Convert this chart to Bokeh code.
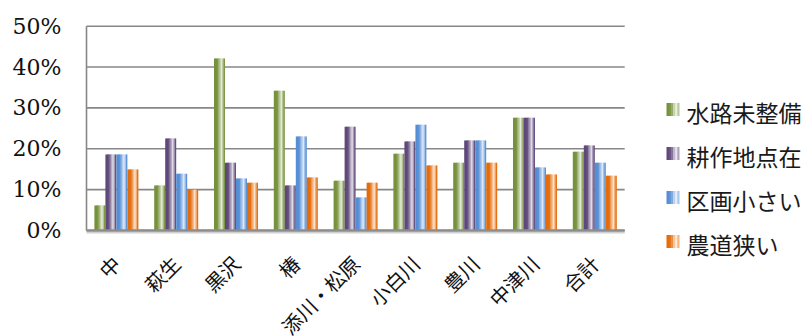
from math import pi

from bokeh.plotting import figure
from bokeh.models import ColumnDataSource, Range1d
from bokeh.core.properties import value
from bokeh.transform import dodge
from bokeh.embed import file_html
from bokeh.resources import INLINE

# ---- data (percent of respondents per district) ----
districts = ["中", "萩生", "黒沢", "椿", "添川・松原", "小白川", "豊川", "中津川", "合計"]
series_names = ["水路未整備", "耕作地点在", "区画小さい", "農道狭い"]
suiro_miseibi = [6.1, 11.0, 42.1, 34.2, 12.2, 18.8, 16.6, 27.6, 19.3]
kousaku_tenzai = [18.6, 22.5, 16.6, 11.0, 25.4, 21.8, 22.0, 27.6, 20.8]
kukaku_chiisai = [18.6, 13.9, 12.7, 23.0, 8.1, 25.9, 22.0, 15.4, 16.6]
noudou_semai = [14.9, 10.0, 11.7, 13.0, 11.7, 15.9, 16.6, 13.7, 13.4]
y_ticks = [0, 10, 20, 30, 40, 50]
y_tick_labels = ["0%", "10%", "20%", "30%", "40%", "50%"]

series_cols = ["s0", "s1", "s2", "s3"]
base_colors = ["#76923C", "#5F497A", "#558ED5", "#E46C0A"]

JP = "Noto Sans CJK JP"

# ---- canvas geometry: the plot frame covers the whole canvas ----
W, H = 806, 336
X0_PX = 86          # left edge of the category area
CAT_PX = 59.8       # pixels per category slot
Y0_PX = 230         # pixel row of the 0% line
PX_PER_PCT = 4.086  # pixels per percentage point


def xd(px):
    return (px - X0_PX) / CAT_PX


def yd(py):
    return (Y0_PX - py) / PX_PER_PCT


n_cat = len(districts)
source = ColumnDataSource(data=dict(
    district=districts,
    xc=[i + 0.5 for i in range(n_cat)],
    s0=suiro_miseibi,
    s1=kousaku_tenzai,
    s2=kukaku_chiisai,
    s3=noudou_semai,
    y0=[0] * n_cat,
))


def tint(hex_color, f):
    """Mix a colour toward white by fraction f."""
    r, g, b = (int(hex_color[i:i + 2], 16) for i in (1, 3, 5))
    r = round(r + (255 - r) * f)
    g = round(g + (255 - g) * f)
    b = round(b + (255 - b) * f)
    return "#%02x%02x%02x" % (r, g, b)


p = figure(
    x_range=Range1d(xd(0), xd(W)),
    y_range=Range1d(yd(H), yd(0)),
    width=W, height=H,
    output_backend="svg",
    toolbar_location=None,
    x_axis_location=None, y_axis_location=None,
    min_border=0,
    background_fill_color="white", border_fill_color="white",
)
p.outline_line_color = None
p.grid.visible = False

# horizontal gridlines and value axis
p.segment(x0=0, x1=n_cat, y0=y_ticks, y1=y_ticks, line_color="#878787", line_width=1.6)
p.segment(x0=0, x1=0, y0=min(y_ticks), y1=max(y_ticks), line_color="#878787", line_width=1.6)

# value axis labels
p.text(x=[0] * len(y_ticks), y=y_ticks, text=y_tick_labels, x_offset=-25,
       text_align="right", text_baseline="middle",
       text_font=value("DejaVu Serif"), text_font_size=value("22px"), text_color="#111111")

# ---- cylinder-like shaded bars: each bar built from narrow vertical strips ----
bar_w = 0.184
offsets = [-1.5 * bar_w, -0.5 * bar_w, 0.5 * bar_w, 1.5 * bar_w]
shade = [0.0, 0.0, 0.05, 0.3, 0.55, 0.8, 0.45, 0.05]
n = len(shade)
sw = bar_w / n
for col, off, base in zip(series_cols, offsets, base_colors):
    left_edge = off - bar_w / 2
    right_edge = off + bar_w / 2
    for k, f in enumerate(shade):
        lo = left_edge + k * sw
        hi = min(lo + 1.6 * sw, right_edge)
        p.vbar(x=dodge("xc", (lo + hi) / 2), top=col, width=hi - lo, bottom=0,
               source=source, fill_color=tint(base, f), line_color=None)

# category axis baseline with a soft shadow
p.segment(x0=0, x1=n_cat, y0=yd(Y0_PX + 2.2), y1=yd(Y0_PX + 2.2), line_color="#d0d0d0", line_width=1.5)
p.segment(x0=0, x1=n_cat, y0=0, y1=0, line_color="#8C8C8C", line_width=2.5)

# rotated category labels
p.text(x="xc", y="y0", text="district", source=source,
       angle=pi / 4, text_align="right", text_baseline="middle", y_offset=29,
       text_font=value(JP), text_font_size=value("20px"), text_color="#111111")

# ---- legend ----
text_rows = [111, 155, 199, 243]
shade_key = [0.0, 0.05, 0.25, 0.6, 0.85, 0.5]
key_left, key_w, key_h = 666, 13, 13
kstep = key_w / len(shade_key)
for base, ty in zip(base_colors, text_rows):
    cy = ty - 2
    for k, f in enumerate(shade_key):
        lo = key_left + k * kstep
        hi = min(lo + 1.5 * kstep, key_left + key_w)
        p.quad(left=xd(lo), right=xd(hi), top=yd(cy - key_h / 2), bottom=yd(cy + key_h / 2),
               fill_color=tint(base, f), line_color=None)

p.text(x=[xd(686)] * len(series_names), y=[yd(t) for t in text_rows], text=series_names,
       text_align="left", text_baseline="middle",
       text_font=value(JP), text_font_size=value("23px"), text_color="#1a1a1a")

open("out.html", "w").write(file_html(p, INLINE))
